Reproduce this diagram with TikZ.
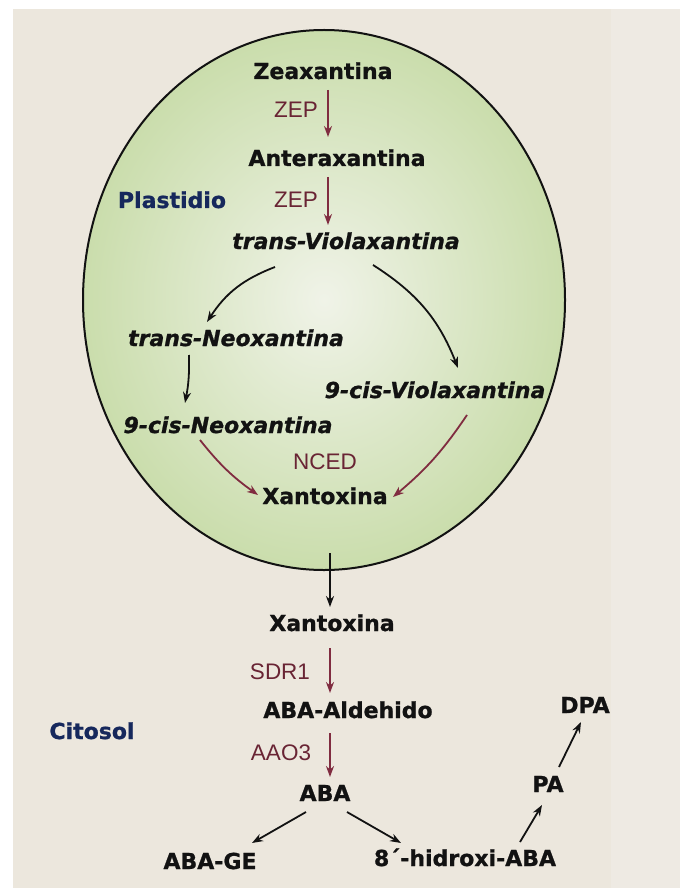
\documentclass[tikz,border=0pt]{standalone}
\usepackage{fontspec}
\usetikzlibrary{arrows.meta,calc}
\newfontfamily\dvh{DejaVu Sans Bold}[FakeBold=1.0]
\newfontfamily\dvhi{DejaVu Sans Bold Oblique}[FakeBold=1.0]
\newfontfamily\lis{Liberation Sans}
\definecolor{bgbeige}{RGB}{236,231,221}
\definecolor{bgband}{RGB}{238,234,227}
\definecolor{ellout}{RGB}{202,221,172}
\definecolor{ellin}{RGB}{240,243,232}
\definecolor{enzred}{RGB}{105,36,52}
\definecolor{enzline}{RGB}{128,44,64}
\definecolor{compblue}{RGB}{22,40,92}
\definecolor{ink}{RGB}{18,18,18}
\tikzset{
  cmp/.style={font=\dvh\fontsize{22}{26}\selectfont, text=ink, inner sep=2pt, text height=16pt, text depth=4pt},
  cmpi/.style={cmp, font=\dvhi\fontsize{22}{26}\selectfont},
  cmpt/.style={cmp, text=compblue},
  enz/.style={font=\lis\fontsize{22.5}{26}\selectfont, text=enzred, inner sep=1pt},
  arr/.style={-{Stealth[length=11pt,width=8pt]}, line width=1.8pt, draw=ink},
  earr/.style={arr, draw=enzline},
}
\begin{document}
\begin{tikzpicture}[x=1pt,y=-1pt]
\useasboundingbox (0,0) rectangle (680,893);
\fill[white] (0,0) rectangle (680,893);
\fill[bgbeige] (13,9) rectangle (680,888);
\fill[bgband] (611,9) rectangle (680,888);
% plastid
\shade[inner color=ellin, outer color=ellout] (324,300) ellipse [x radius=241, y radius=270];
\draw[line width=2pt, ink] (324,300) ellipse [x radius=241, y radius=270];
\coordinate (ebot) at (330,553);
% nodes
\node[cmp] (zea) at (323,73) {Zeaxantina};
\node[cmp] (ante) at (337,160) {Anteraxantina};
\node[cmpi] (tvio) at (346,243) {trans-Violaxantina};
\node[cmpi] (tneo) at (236,340) {trans-Neoxantina};
\node[cmpi] (cvio) at (435,392) {9-cis-Violaxantina};
\node[cmpi] (cneo) at (228,427) {9-cis-Neoxantina};
\node[cmp] (xan1) at (325,498) {Xantoxina};
\node[cmp] (xan2) at (332,625) {Xantoxina};
\node[cmp] (ald) at (348,712) {ABA-Aldehido};
\node[cmp] (aba) at (325,795) {ABA};
\node[cmp] (abage) at (210,863) {ABA-GE};
\node[cmp] (hid) at (465,860) {8´-hidroxi-ABA};
\node[cmp] (pa) at (548,786) {PA};
\node[cmp] (dpa) at (585,707) {DPA};
\node[cmpt] (plas) at (172,202) {Plastidio};
\node[cmpt] (cito) at (92,733) {Citosol};
\node[enz] (zep1) at (296,110) {ZEP};
\node[enz] (zep2) at (296,200) {ZEP};
\node[enz] (nced) at (325,462) {NCED};
\node[enz] (sdr) at (280,672) {SDR1};
\node[enz] (aao) at (281,753) {AAO3};
% connectors
\draw[earr] ($(zea)+(5,17)$) -- ($(ante)+(-9,-23)$);
\draw[earr] ($(ante)+(-9,17)$) -- ($(tvio)+(-18,-18)$);
\draw[arr] ($(tvio)+(-71,24)$) to[bend right=18] ($(tneo)+(-29,-18)$);
\draw[arr] ($(tvio)+(27,22)$) to[bend left=18] ($(cvio)+(23,-24)$);
\draw[arr] ($(tneo)+(-47,15)$) to[bend left=6] ($(cneo)+(-43,-24)$);
\draw[earr] ($(cneo)+(-28,13)$) to[bend right=8] ($(xan1)+(-67,-3)$);
\draw[earr] ($(cvio)+(32,23)$) to[bend left=8] ($(xan1)+(68,-1)$);
\draw[arr] (ebot) -- ($(xan2)+(-2,-18)$);
\draw[earr] ($(xan2)+(-2,23)$) -- ($(ald)+(-18,-19)$);
\draw[earr] ($(ald)+(-18,21)$) -- ($(aba)+(5,-18)$);
\draw[arr] ($(aba)+(-19,17)$) -- ($(abage)+(42,-20)$);
\draw[arr] ($(aba)+(22,17)$) -- ($(hid)+(-64,-17)$);
\draw[arr] ($(hid)+(55,-18)$) -- ($(pa)+(-6,19)$);
\draw[arr] ($(pa)+(11,-19)$) -- ($(dpa)+(-4,15)$);
\end{tikzpicture}
\end{document}
